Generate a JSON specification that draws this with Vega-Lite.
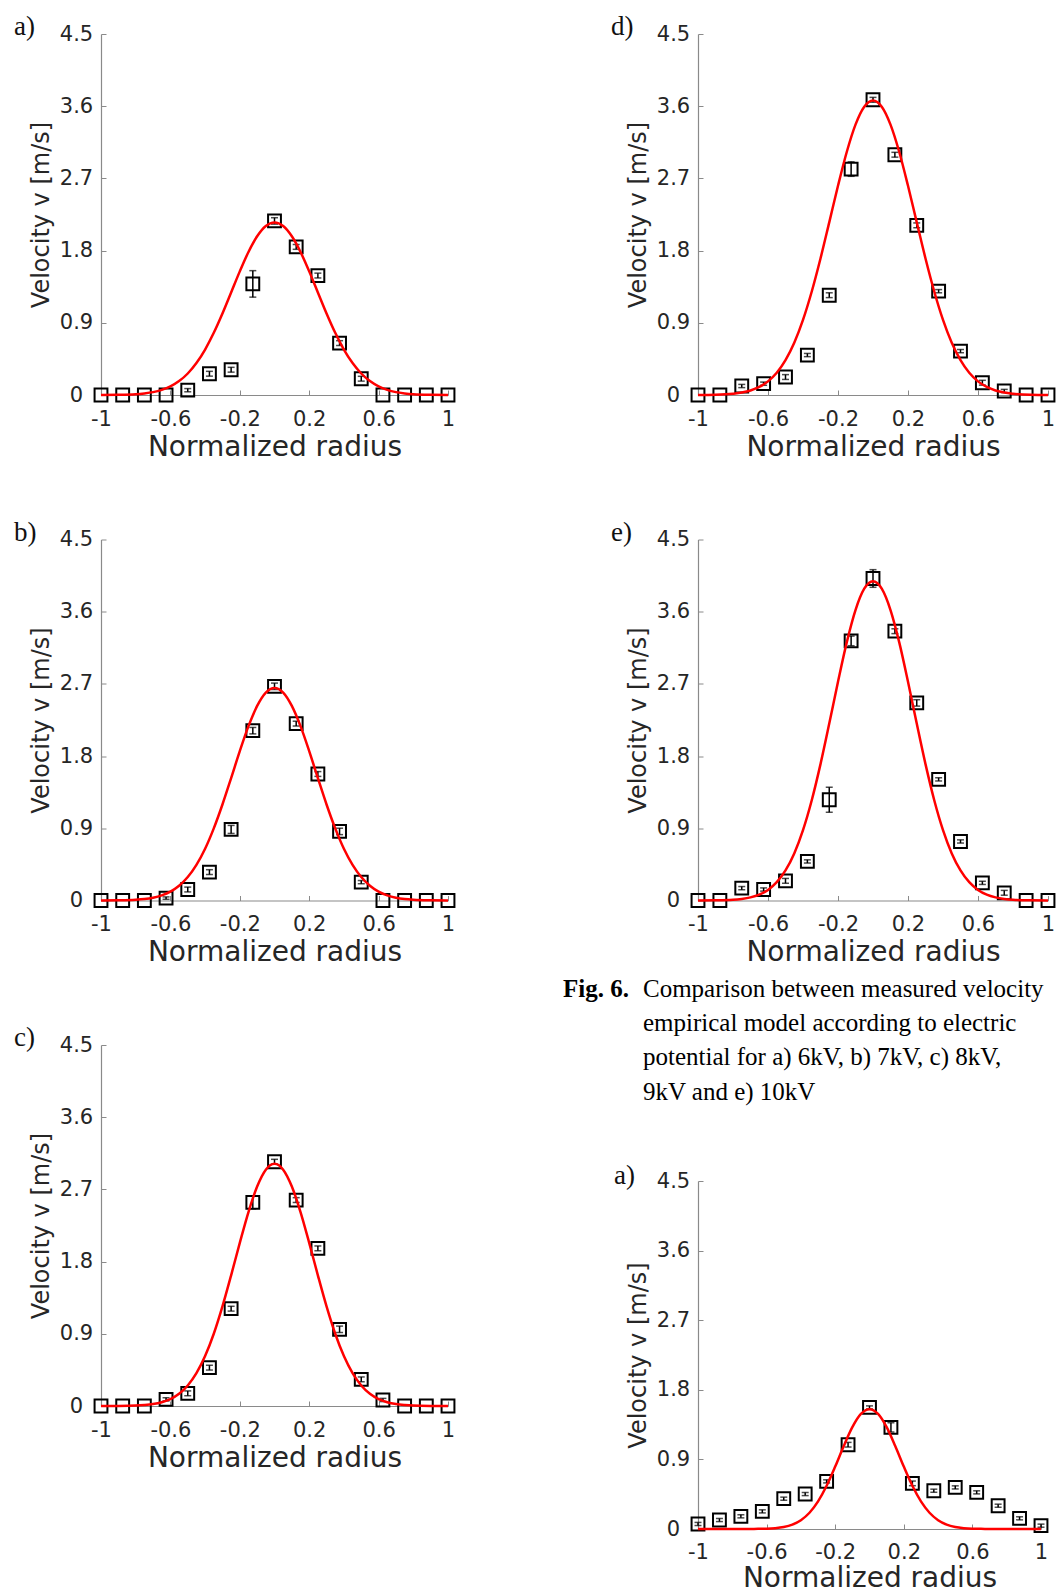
{
  "$schema": "https://vega.github.io/schema/vega-lite/v6.json",
  "background": "white",
  "padding": {"left": 14, "top": 13, "right": 0, "bottom": 0},
  "datasets": {
    "pts": [
      {"p":"a","r":-1,"v":0},{"p":"a","r":-0.875,"v":0},{"p":"a","r":-0.75,"v":0},{"p":"a","r":-0.625,"v":0},
      {"p":"a","r":-0.5,"v":0.06,"lo":0.04,"hi":0.08},{"p":"a","r":-0.375,"v":0.265,"lo":0.235,"hi":0.295},
      {"p":"a","r":-0.25,"v":0.315,"lo":0.285,"hi":0.345},{"p":"a","r":-0.125,"v":1.385,"lo":1.22,"hi":1.55},
      {"p":"a","r":0,"v":2.17,"lo":2.13,"hi":2.21},{"p":"a","r":0.125,"v":1.846,"lo":1.816,"hi":1.876},
      {"p":"a","r":0.25,"v":1.489,"lo":1.459,"hi":1.519},{"p":"a","r":0.375,"v":0.647,"lo":0.617,"hi":0.677},
      {"p":"a","r":0.5,"v":0.203,"lo":0.173,"hi":0.233},{"p":"a","r":0.625,"v":0},{"p":"a","r":0.75,"v":0},
      {"p":"a","r":0.875,"v":0},{"p":"a","r":1,"v":0},

      {"p":"b","r":-1,"v":0},{"p":"b","r":-0.875,"v":0},{"p":"b","r":-0.75,"v":0},
      {"p":"b","r":-0.625,"v":0.03,"lo":0.015,"hi":0.045},{"p":"b","r":-0.5,"v":0.137,"lo":0.107,"hi":0.167},
      {"p":"b","r":-0.375,"v":0.354,"lo":0.324,"hi":0.384},{"p":"b","r":-0.25,"v":0.886,"lo":0.836,"hi":0.936},
      {"p":"b","r":-0.125,"v":2.117,"lo":2.077,"hi":2.157},{"p":"b","r":0,"v":2.67,"lo":2.63,"hi":2.71},
      {"p":"b","r":0.125,"v":2.205,"lo":2.175,"hi":2.235},{"p":"b","r":0.25,"v":1.577,"lo":1.547,"hi":1.607},
      {"p":"b","r":0.375,"v":0.861,"lo":0.821,"hi":0.901},{"p":"b","r":0.5,"v":0.229,"lo":0.209,"hi":0.249},
      {"p":"b","r":0.625,"v":0},{"p":"b","r":0.75,"v":0},{"p":"b","r":0.875,"v":0},{"p":"b","r":1,"v":0},

      {"p":"c","r":-1,"v":0},{"p":"c","r":-0.875,"v":0},{"p":"c","r":-0.75,"v":0},
      {"p":"c","r":-0.625,"v":0.083,"lo":0.063,"hi":0.103},{"p":"c","r":-0.5,"v":0.158,"lo":0.128,"hi":0.188},
      {"p":"c","r":-0.375,"v":0.478,"lo":0.448,"hi":0.508},{"p":"c","r":-0.25,"v":1.213,"lo":1.183,"hi":1.243},
      {"p":"c","r":-0.125,"v":2.538,"lo":2.458,"hi":2.618},{"p":"c","r":0,"v":3.045,"lo":3.015,"hi":3.075},
      {"p":"c","r":0.125,"v":2.567,"lo":2.537,"hi":2.597},{"p":"c","r":0.25,"v":1.965,"lo":1.935,"hi":1.995},
      {"p":"c","r":0.375,"v":0.956,"lo":0.916,"hi":0.996},{"p":"c","r":0.5,"v":0.332,"lo":0.302,"hi":0.362},
      {"p":"c","r":0.625,"v":0.075,"lo":0.055,"hi":0.095},{"p":"c","r":0.75,"v":0},{"p":"c","r":0.875,"v":0},{"p":"c","r":1,"v":0},

      {"p":"d","r":-1,"v":0},{"p":"d","r":-0.875,"v":0},
      {"p":"d","r":-0.75,"v":0.112,"lo":0.092,"hi":0.132},{"p":"d","r":-0.625,"v":0.141,"lo":0.121,"hi":0.161},
      {"p":"d","r":-0.5,"v":0.224,"lo":0.194,"hi":0.254},{"p":"d","r":-0.375,"v":0.498,"lo":0.478,"hi":0.518},
      {"p":"d","r":-0.25,"v":1.244,"lo":1.214,"hi":1.274},{"p":"d","r":-0.125,"v":2.816,"lo":2.726,"hi":2.906},
      {"p":"d","r":0,"v":3.68,"lo":3.65,"hi":3.71},{"p":"d","r":0.125,"v":2.995,"lo":2.965,"hi":3.025},
      {"p":"d","r":0.25,"v":2.115,"lo":2.085,"hi":2.145},{"p":"d","r":0.375,"v":1.294,"lo":1.274,"hi":1.314},
      {"p":"d","r":0.5,"v":0.547,"lo":0.527,"hi":0.567},{"p":"d","r":0.625,"v":0.153,"lo":0.123,"hi":0.183},
      {"p":"d","r":0.75,"v":0.05,"lo":0.03,"hi":0.07},{"p":"d","r":0.875,"v":0},{"p":"d","r":1,"v":0},

      {"p":"e","r":-1,"v":0},{"p":"e","r":-0.875,"v":0},
      {"p":"e","r":-0.75,"v":0.154,"lo":0.134,"hi":0.174},{"p":"e","r":-0.625,"v":0.137,"lo":0.117,"hi":0.157},
      {"p":"e","r":-0.5,"v":0.245,"lo":0.215,"hi":0.275},{"p":"e","r":-0.375,"v":0.487,"lo":0.467,"hi":0.507},
      {"p":"e","r":-0.25,"v":1.256,"lo":1.1,"hi":1.412},{"p":"e","r":-0.125,"v":3.236,"lo":3.176,"hi":3.296},
      {"p":"e","r":0,"v":4.014,"lo":3.904,"hi":4.124},{"p":"e","r":0.125,"v":3.357,"lo":3.327,"hi":3.387},
      {"p":"e","r":0.25,"v":2.463,"lo":2.423,"hi":2.503},{"p":"e","r":0.375,"v":1.51,"lo":1.49,"hi":1.53},
      {"p":"e","r":0.5,"v":0.736,"lo":0.716,"hi":0.756},{"p":"e","r":0.625,"v":0.22,"lo":0.2,"hi":0.24},
      {"p":"e","r":0.75,"v":0.096,"lo":0.066,"hi":0.126},{"p":"e","r":0.875,"v":0},{"p":"e","r":1,"v":0},

      {"p":"f","r":-1,"v":0.065,"lo":0.045,"hi":0.085},{"p":"f","r":-0.875,"v":0.116,"lo":0.096,"hi":0.136},
      {"p":"f","r":-0.75,"v":0.164,"lo":0.144,"hi":0.184},{"p":"f","r":-0.625,"v":0.228,"lo":0.208,"hi":0.248},
      {"p":"f","r":-0.5,"v":0.392,"lo":0.372,"hi":0.412},{"p":"f","r":-0.375,"v":0.452,"lo":0.432,"hi":0.472},
      {"p":"f","r":-0.25,"v":0.616,"lo":0.596,"hi":0.636},{"p":"f","r":-0.125,"v":1.09,"lo":1.06,"hi":1.12},
      {"p":"f","r":0,"v":1.572,"lo":1.552,"hi":1.592},{"p":"f","r":0.125,"v":1.314,"lo":1.254,"hi":1.374},
      {"p":"f","r":0.25,"v":0.59,"lo":0.56,"hi":0.62},{"p":"f","r":0.375,"v":0.495,"lo":0.475,"hi":0.515},
      {"p":"f","r":0.5,"v":0.538,"lo":0.518,"hi":0.558},{"p":"f","r":0.625,"v":0.474,"lo":0.454,"hi":0.494},
      {"p":"f","r":0.75,"v":0.301,"lo":0.281,"hi":0.321},{"p":"f","r":0.875,"v":0.138,"lo":0.118,"hi":0.158},
      {"p":"f","r":1,"v":0.043,"lo":0.023,"hi":0.063}
    ],
    "fit": [
      {"r":-1,"a":0.001,"b":0,"c":0,"d":0.001,"e":0,"f":0},
      {"r":-0.9,"a":0.003,"b":0.002,"c":0.001,"d":0.004,"e":0.002,"f":0},
      {"r":-0.8,"a":0.01,"b":0.009,"c":0.005,"d":0.016,"e":0.009,"f":0},
      {"r":-0.75,"a":0.02,"b":0.018,"c":0.012,"d":0.03,"e":0.02,"f":0},
      {"r":-0.7,"a":0.036,"b":0.035,"c":0.024,"d":0.056,"e":0.039,"f":0.001},
      {"r":-0.65,"a":0.064,"b":0.064,"c":0.047,"d":0.1,"e":0.073,"f":0.002},
      {"r":-0.6,"a":0.107,"b":0.11,"c":0.086,"d":0.17,"e":0.132,"f":0.004},
      {"r":-0.55,"a":0.173,"b":0.183,"c":0.152,"d":0.277,"e":0.228,"f":0.011},
      {"r":-0.5,"a":0.268,"b":0.292,"c":0.256,"d":0.434,"e":0.375,"f":0.026},
      {"r":-0.45,"a":0.398,"b":0.444,"c":0.409,"d":0.651,"e":0.587,"f":0.057},
      {"r":-0.4,"a":0.567,"b":0.645,"c":0.622,"d":0.936,"e":0.877,"f":0.114},
      {"r":-0.35,"a":0.775,"b":0.899,"c":0.901,"d":1.29,"e":1.25,"f":0.21},
      {"r":-0.3,"a":1.016,"b":1.197,"c":1.242,"d":1.702,"e":1.7,"f":0.357},
      {"r":-0.25,"a":1.278,"b":1.526,"c":1.629,"d":2.152,"e":2.205,"f":0.559},
      {"r":-0.2,"a":1.541,"b":1.862,"c":2.034,"d":2.608,"e":2.727,"f":0.807},
      {"r":-0.15,"a":1.783,"b":2.173,"c":2.418,"d":3.029,"e":3.218,"f":1.074},
      {"r":-0.1,"a":1.978,"b":2.426,"c":2.736,"d":3.37,"e":3.621,"f":1.317},
      {"r":-0.05,"a":2.106,"b":2.592,"c":2.946,"d":3.593,"e":3.887,"f":1.488},
      {"r":0,"a":2.15,"b":2.65,"c":3.02,"d":3.67,"e":3.98,"f":1.55},
      {"r":0.05,"a":2.106,"b":2.592,"c":2.946,"d":3.593,"e":3.887,"f":1.488},
      {"r":0.1,"a":1.978,"b":2.426,"c":2.736,"d":3.37,"e":3.621,"f":1.317},
      {"r":0.15,"a":1.783,"b":2.173,"c":2.418,"d":3.029,"e":3.218,"f":1.074},
      {"r":0.2,"a":1.541,"b":1.862,"c":2.034,"d":2.608,"e":2.727,"f":0.807},
      {"r":0.25,"a":1.278,"b":1.526,"c":1.629,"d":2.152,"e":2.205,"f":0.559},
      {"r":0.3,"a":1.016,"b":1.197,"c":1.242,"d":1.702,"e":1.7,"f":0.357},
      {"r":0.35,"a":0.775,"b":0.899,"c":0.901,"d":1.29,"e":1.25,"f":0.21},
      {"r":0.4,"a":0.567,"b":0.645,"c":0.622,"d":0.936,"e":0.877,"f":0.114},
      {"r":0.45,"a":0.398,"b":0.444,"c":0.409,"d":0.651,"e":0.587,"f":0.057},
      {"r":0.5,"a":0.268,"b":0.292,"c":0.256,"d":0.434,"e":0.375,"f":0.026},
      {"r":0.55,"a":0.173,"b":0.183,"c":0.152,"d":0.277,"e":0.228,"f":0.011},
      {"r":0.6,"a":0.107,"b":0.11,"c":0.086,"d":0.17,"e":0.132,"f":0.004},
      {"r":0.65,"a":0.064,"b":0.064,"c":0.047,"d":0.1,"e":0.073,"f":0.002},
      {"r":0.7,"a":0.036,"b":0.035,"c":0.024,"d":0.056,"e":0.039,"f":0.001},
      {"r":0.75,"a":0.02,"b":0.018,"c":0.012,"d":0.03,"e":0.02,"f":0},
      {"r":0.8,"a":0.01,"b":0.009,"c":0.005,"d":0.016,"e":0.009,"f":0},
      {"r":0.9,"a":0.003,"b":0.002,"c":0.001,"d":0.004,"e":0.002,"f":0},
      {"r":1,"a":0.001,"b":0,"c":0,"d":0.001,"e":0,"f":0}
    ],
    "fig": [{"col":0,"ln":0,"t":"Fig. 6."}],
    "cap": [
      {"col":1,"ln":0,"t":"Comparison between measured velocity"},
      {"col":1,"ln":1,"t":"empirical model according to electric"},
      {"col":1,"ln":2,"t":"potential for a) 6kV, b) 7kV, c) 8kV,"},
      {"col":1,"ln":3,"t":"9kV and e) 10kV"}
    ]
  },
  "spacing": 104,
  "hconcat": [
    {
      "spacing": 57.5,
      "vconcat": [
        {
          "width": 347, "height": 361,
          "title": {"text": "a)", "anchor": "start", "frame": "group", "dx": -87, "dy": 39, "offset": 0, "baseline": "alphabetic", "font": "Liberation Serif", "fontSize": 27, "fontWeight": "normal", "color": "#111111"},
          "layer": [
            {"data": {"name": "pts"}, "transform": [{"filter": "datum.p === 'a' && isValid(datum.lo)"}],
             "mark": {"type": "errorbar", "ticks": {"size": 7}, "color": "#000000", "thickness": 1.5},
             "encoding": {"x": {"field": "r", "type": "quantitative", "title": "Normalized radius"}, "y": {"field": "lo", "type": "quantitative", "title": "Velocity v [m/s]"}, "y2": {"field": "hi"}}},
            {"data": {"name": "pts"}, "transform": [{"filter": "datum.p === 'a'"}],
             "mark": {"type": "point", "shape": "square", "filled": false, "size": 165, "strokeWidth": 2, "color": "#000000", "opacity": 1},
             "encoding": {
               "x": {"field": "r", "type": "quantitative", "title": "Normalized radius", "scale": {"domain": [-1, 1], "nice": false, "zero": false}, "axis": {"values": [-1, -0.6, -0.2, 0.2, 0.6, 1], "format": "~g", "labelExpr": "replace(datum.label, '\u2212', '-')", "labelPadding": 18, "titlePadding": 4, "titleFontSize": 28}},
               "y": {"field": "v", "type": "quantitative", "title": "Velocity v [m/s]", "scale": {"domain": [0, 4.5], "nice": false}, "axis": {"values": [0, 0.9, 1.8, 2.7, 3.6, 4.5], "format": "~g", "labelAlign": "center", "labelPadding": 30, "titlePadding": 6, "titleFontSize": 24}}}},
            {"data": {"name": "fit"}, "mark": {"type": "line", "color": "#ff0000", "strokeWidth": 2.5, "interpolate": "monotone"},
             "encoding": {"x": {"field": "r", "type": "quantitative", "title": "Normalized radius"}, "y": {"field": "a", "type": "quantitative", "title": "Velocity v [m/s]"}}}
          ]
        },
        {
          "width": 347, "height": 361,
          "title": {"text": "b)", "anchor": "start", "frame": "group", "dx": -87, "dy": 39, "offset": 0, "baseline": "alphabetic", "font": "Liberation Serif", "fontSize": 27, "fontWeight": "normal", "color": "#111111"},
          "layer": [
            {"data": {"name": "pts"}, "transform": [{"filter": "datum.p === 'b' && isValid(datum.lo)"}],
             "mark": {"type": "errorbar", "ticks": {"size": 7}, "color": "#000000", "thickness": 1.5},
             "encoding": {"x": {"field": "r", "type": "quantitative", "title": "Normalized radius"}, "y": {"field": "lo", "type": "quantitative", "title": "Velocity v [m/s]"}, "y2": {"field": "hi"}}},
            {"data": {"name": "pts"}, "transform": [{"filter": "datum.p === 'b'"}],
             "mark": {"type": "point", "shape": "square", "filled": false, "size": 165, "strokeWidth": 2, "color": "#000000", "opacity": 1},
             "encoding": {
               "x": {"field": "r", "type": "quantitative", "title": "Normalized radius", "scale": {"domain": [-1, 1], "nice": false, "zero": false}, "axis": {"values": [-1, -0.6, -0.2, 0.2, 0.6, 1], "format": "~g", "labelExpr": "replace(datum.label, '\u2212', '-')", "labelPadding": 18, "titlePadding": 4, "titleFontSize": 28}},
               "y": {"field": "v", "type": "quantitative", "title": "Velocity v [m/s]", "scale": {"domain": [0, 4.5], "nice": false}, "axis": {"values": [0, 0.9, 1.8, 2.7, 3.6, 4.5], "format": "~g", "labelAlign": "center", "labelPadding": 30, "titlePadding": 6, "titleFontSize": 24}}}},
            {"data": {"name": "fit"}, "mark": {"type": "line", "color": "#ff0000", "strokeWidth": 2.5, "interpolate": "monotone"},
             "encoding": {"x": {"field": "r", "type": "quantitative", "title": "Normalized radius"}, "y": {"field": "b", "type": "quantitative", "title": "Velocity v [m/s]"}}}
          ]
        },
        {
          "width": 347, "height": 361,
          "title": {"text": "c)", "anchor": "start", "frame": "group", "dx": -87, "dy": 39, "offset": 0, "baseline": "alphabetic", "font": "Liberation Serif", "fontSize": 27, "fontWeight": "normal", "color": "#111111"},
          "layer": [
            {"data": {"name": "pts"}, "transform": [{"filter": "datum.p === 'c' && isValid(datum.lo)"}],
             "mark": {"type": "errorbar", "ticks": {"size": 7}, "color": "#000000", "thickness": 1.5},
             "encoding": {"x": {"field": "r", "type": "quantitative", "title": "Normalized radius"}, "y": {"field": "lo", "type": "quantitative", "title": "Velocity v [m/s]"}, "y2": {"field": "hi"}}},
            {"data": {"name": "pts"}, "transform": [{"filter": "datum.p === 'c'"}],
             "mark": {"type": "point", "shape": "square", "filled": false, "size": 165, "strokeWidth": 2, "color": "#000000", "opacity": 1},
             "encoding": {
               "x": {"field": "r", "type": "quantitative", "title": "Normalized radius", "scale": {"domain": [-1, 1], "nice": false, "zero": false}, "axis": {"values": [-1, -0.6, -0.2, 0.2, 0.6, 1], "format": "~g", "labelExpr": "replace(datum.label, '\u2212', '-')", "labelPadding": 18, "titlePadding": 4, "titleFontSize": 28}},
               "y": {"field": "v", "type": "quantitative", "title": "Velocity v [m/s]", "scale": {"domain": [0, 4.5], "nice": false}, "axis": {"values": [0, 0.9, 1.8, 2.7, 3.6, 4.5], "format": "~g", "labelAlign": "center", "labelPadding": 30, "titlePadding": 6, "titleFontSize": 24}}}},
            {"data": {"name": "fit"}, "mark": {"type": "line", "color": "#ff0000", "strokeWidth": 2.5, "interpolate": "monotone"},
             "encoding": {"x": {"field": "r", "type": "quantitative", "title": "Normalized radius"}, "y": {"field": "c", "type": "quantitative", "title": "Velocity v [m/s]"}}}
          ]
        }
      ]
    },
    {
      "spacing": 57.5,
      "vconcat": [
        {
          "width": 350, "height": 361,
          "title": {"text": "d)", "anchor": "start", "frame": "group", "dx": -87, "dy": 39, "offset": 0, "baseline": "alphabetic", "font": "Liberation Serif", "fontSize": 27, "fontWeight": "normal", "color": "#111111"},
          "layer": [
            {"data": {"name": "pts"}, "transform": [{"filter": "datum.p === 'd' && isValid(datum.lo)"}],
             "mark": {"type": "errorbar", "ticks": {"size": 7}, "color": "#000000", "thickness": 1.5},
             "encoding": {"x": {"field": "r", "type": "quantitative", "title": "Normalized radius"}, "y": {"field": "lo", "type": "quantitative", "title": "Velocity v [m/s]"}, "y2": {"field": "hi"}}},
            {"data": {"name": "pts"}, "transform": [{"filter": "datum.p === 'd'"}],
             "mark": {"type": "point", "shape": "square", "filled": false, "size": 165, "strokeWidth": 2, "color": "#000000", "opacity": 1},
             "encoding": {
               "x": {"field": "r", "type": "quantitative", "title": "Normalized radius", "scale": {"domain": [-1, 1], "nice": false, "zero": false}, "axis": {"values": [-1, -0.6, -0.2, 0.2, 0.6, 1], "format": "~g", "labelExpr": "replace(datum.label, '\u2212', '-')", "labelPadding": 18, "titlePadding": 4, "titleFontSize": 28}},
               "y": {"field": "v", "type": "quantitative", "title": "Velocity v [m/s]", "scale": {"domain": [0, 4.5], "nice": false}, "axis": {"values": [0, 0.9, 1.8, 2.7, 3.6, 4.5], "format": "~g", "labelAlign": "center", "labelPadding": 30, "titlePadding": 6, "titleFontSize": 24}}}},
            {"data": {"name": "fit"}, "mark": {"type": "line", "color": "#ff0000", "strokeWidth": 2.5, "interpolate": "monotone"},
             "encoding": {"x": {"field": "r", "type": "quantitative", "title": "Normalized radius"}, "y": {"field": "d", "type": "quantitative", "title": "Velocity v [m/s]"}}}
          ]
        },
        {
          "width": 350, "height": 361,
          "title": {"text": "e)", "anchor": "start", "frame": "group", "dx": -87, "dy": 39, "offset": 0, "baseline": "alphabetic", "font": "Liberation Serif", "fontSize": 27, "fontWeight": "normal", "color": "#111111"},
          "layer": [
            {
              "layer": [
                {"data": {"name": "pts"}, "transform": [{"filter": "datum.p === 'e' && isValid(datum.lo)"}],
                 "mark": {"type": "errorbar", "ticks": {"size": 7}, "color": "#000000", "thickness": 1.5},
                 "encoding": {"x": {"field": "r", "type": "quantitative", "title": "Normalized radius"}, "y": {"field": "lo", "type": "quantitative", "title": "Velocity v [m/s]"}, "y2": {"field": "hi"}}},
                {"data": {"name": "pts"}, "transform": [{"filter": "datum.p === 'e'"}],
                 "mark": {"type": "point", "shape": "square", "filled": false, "size": 165, "strokeWidth": 2, "color": "#000000", "opacity": 1},
                 "encoding": {
                   "x": {"field": "r", "type": "quantitative", "title": "Normalized radius", "scale": {"domain": [-1, 1], "nice": false, "zero": false}, "axis": {"values": [-1, -0.6, -0.2, 0.2, 0.6, 1], "format": "~g", "labelExpr": "replace(datum.label, '\u2212', '-')", "labelPadding": 18, "titlePadding": 4, "titleFontSize": 28}},
                   "y": {"field": "v", "type": "quantitative", "title": "Velocity v [m/s]", "scale": {"domain": [0, 4.5], "nice": false}, "axis": {"values": [0, 0.9, 1.8, 2.7, 3.6, 4.5], "format": "~g", "labelAlign": "center", "labelPadding": 30, "titlePadding": 6, "titleFontSize": 24}}}},
                {"data": {"name": "fit"}, "mark": {"type": "line", "color": "#ff0000", "strokeWidth": 2.5, "interpolate": "monotone"},
                 "encoding": {"x": {"field": "r", "type": "quantitative", "title": "Normalized radius"}, "y": {"field": "e", "type": "quantitative", "title": "Velocity v [m/s]"}}}
              ]
            },
            {
              "layer": [
                {"data": {"name": "fig"},
                 "mark": {"type": "text", "align": "left", "baseline": "middle", "font": "Liberation Serif", "fontSize": 25, "fontWeight": "bold", "color": "#000000"},
                 "encoding": {
                   "x": {"field": "col", "type": "quantitative", "scale": {"domain": [0, 1], "range": [-135, -55], "nice": false, "zero": false}, "axis": null},
                   "y": {"field": "ln", "type": "quantitative", "scale": {"domain": [0, 3], "range": [449, 552], "nice": false, "zero": false}, "axis": null},
                   "text": {"field": "t"}}},
                {"data": {"name": "cap"},
                 "mark": {"type": "text", "align": "left", "baseline": "middle", "font": "Liberation Serif", "fontSize": 25, "fontWeight": "normal", "color": "#000000"},
                 "encoding": {
                   "x": {"field": "col", "type": "quantitative", "axis": null},
                   "y": {"field": "ln", "type": "quantitative", "axis": null},
                   "text": {"field": "t"}}}
              ]
            }
          ],
          "resolve": {"scale": {"x": "independent", "y": "independent"}}
        },
        {
          "width": 343, "height": 348,
          "title": {"text": "a)", "anchor": "start", "frame": "group", "dx": -84, "dy": 41, "offset": 0, "baseline": "alphabetic", "font": "Liberation Serif", "fontSize": 27, "fontWeight": "normal", "color": "#111111"},
          "layer": [
            {"data": {"name": "pts"}, "transform": [{"filter": "datum.p === 'f' && isValid(datum.lo)"}],
             "mark": {"type": "errorbar", "ticks": {"size": 7}, "color": "#000000", "thickness": 1.5},
             "encoding": {"x": {"field": "r", "type": "quantitative", "title": "Normalized radius"}, "y": {"field": "lo", "type": "quantitative", "title": "Velocity v [m/s]"}, "y2": {"field": "hi"}}},
            {"data": {"name": "pts"}, "transform": [{"filter": "datum.p === 'f'"}],
             "mark": {"type": "point", "shape": "square", "filled": false, "size": 165, "strokeWidth": 2, "color": "#000000", "opacity": 1},
             "encoding": {
               "x": {"field": "r", "type": "quantitative", "title": "Normalized radius", "scale": {"domain": [-1, 1], "nice": false, "zero": false}, "axis": {"values": [-1, -0.6, -0.2, 0.2, 0.6, 1], "format": "~g", "labelExpr": "replace(datum.label, '\u2212', '-')", "labelPadding": 17, "titlePadding": 2, "titleFontSize": 28}},
               "y": {"field": "v", "type": "quantitative", "title": "Velocity v [m/s]", "scale": {"domain": [0, 4.5], "nice": false}, "axis": {"values": [0, 0.9, 1.8, 2.7, 3.6, 4.5], "format": "~g", "labelAlign": "center", "labelPadding": 30, "titlePadding": 6, "titleFontSize": 24}}}},
            {"data": {"name": "fit"}, "mark": {"type": "line", "color": "#ff0000", "strokeWidth": 2.5, "interpolate": "monotone"},
             "encoding": {"x": {"field": "r", "type": "quantitative", "title": "Normalized radius"}, "y": {"field": "f", "type": "quantitative", "title": "Velocity v [m/s]"}}}
          ]
        }
      ]
    }
  ],
  "config": {
    "view": {"stroke": null},
    "axis": {"grid": false, "domainColor": "#8a8a8a", "domainWidth": 1.2, "tickColor": "#8a8a8a", "tickSize": -5, "tickWidth": 1, "labelFont": "DejaVu Sans", "labelFontSize": 21, "labelColor": "#262626", "titleFont": "DejaVu Sans", "titleColor": "#262626", "titleFontWeight": "normal", "labelOverlap": false, "labelFlush": false}
  }
}
